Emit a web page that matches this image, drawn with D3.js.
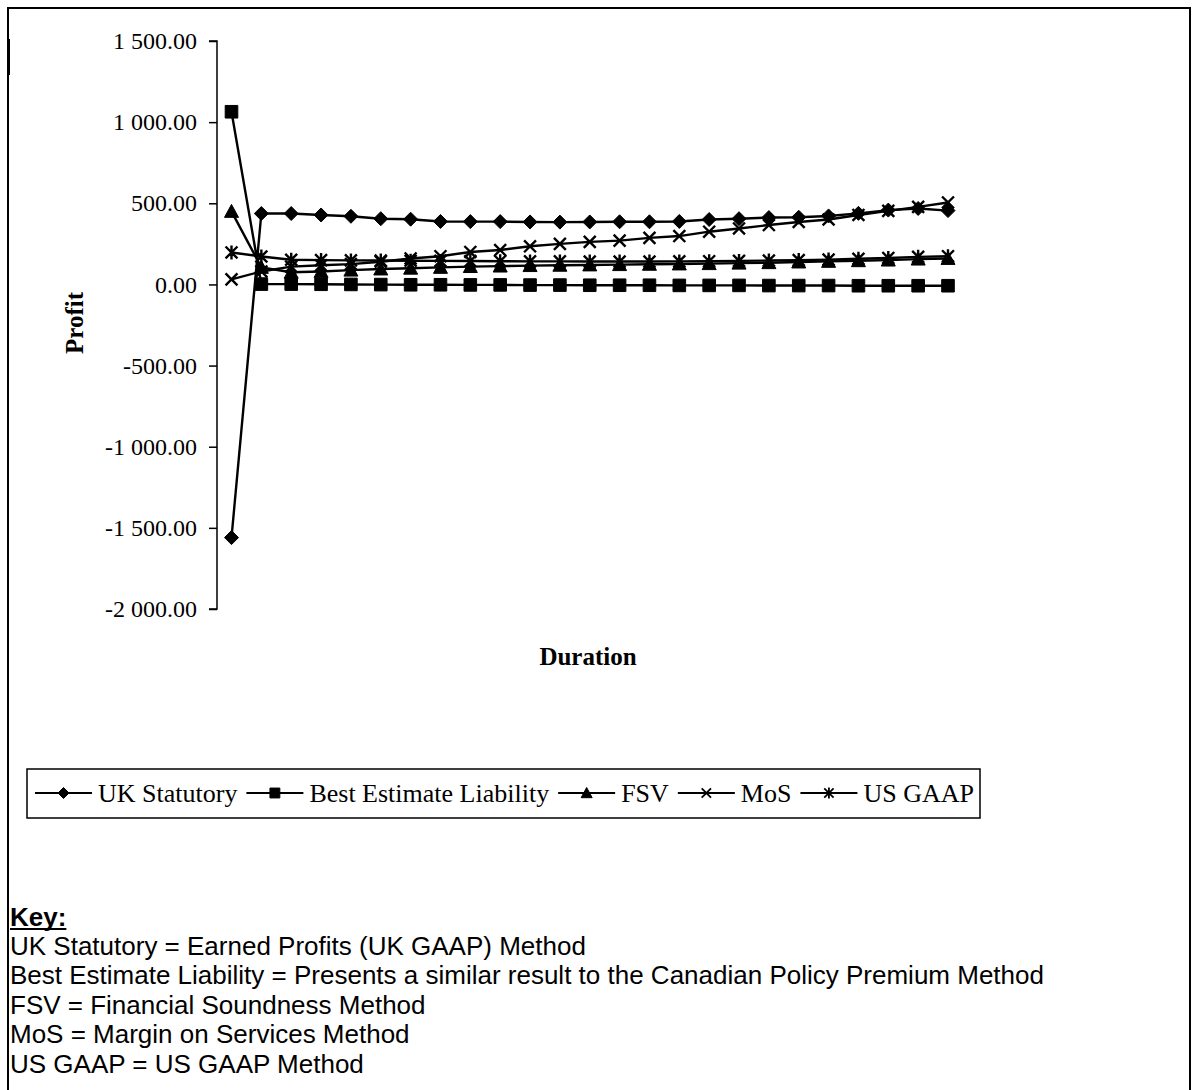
<!DOCTYPE html>
<html>
<head>
<meta charset="utf-8">
<script src="https://cdn.jsdelivr.net/npm/d3@7/dist/d3.min.js"></script>
<style>
  html, body { margin: 0; padding: 0; background: #fff; }
  svg { display: block; }
</style>
</head>
<body>
<svg id="chart" width="1197" height="1090"></svg>
<script>
// ---- data ----
const durations = [1,2,3,4,5,6,7,8,9,10,11,12,13,14,15,16,17,18,19,20,21,22,23,24,25];
const ukStatutory = [-1560, 437, 437, 428, 420, 405, 402, 388, 387, 387, 385, 384, 385, 386, 386, 388, 400, 405, 412, 414, 422, 438, 458, 468, 455];
const bestEstimate = [1064, 2, 2, 1, 0, -1, -2, -2, -3, -3, -4, -4, -5, -5, -5, -6, -6, -6, -7, -7, -7, -8, -8, -8, -8];
const fsv = [450, 105, 75, 80, 88, 95, 100, 105, 110, 113, 116, 118, 120, 122, 124, 126, 128, 131, 134, 138, 142, 146, 150, 156, 160];
const mos = [31, 80, 110, 118, 125, 140, 160, 174, 200, 212, 235, 250, 262, 270, 287, 298, 325, 345, 366, 385, 400, 428, 453, 478, 505];
const usGaap = [197, 172, 152, 150, 148, 147, 146, 145, 144, 143, 142, 142, 141, 141, 141, 142, 143, 145, 147, 150, 153, 158, 163, 170, 174];
const yTicks = [1500, 1000, 500, 0, -500, -1000, -1500, -2000];
const seriesNames = ["UK Statutory", "Best Estimate Liability", "FSV", "MoS", "US GAAP"];
const seriesMarkers = ["diamond", "square", "triangle", "x", "asterisk"];
const keyTitle = "Key:";
const keyLines = [
  "UK Statutory = Earned Profits (UK GAAP) Method",
  "Best Estimate Liability = Presents a similar result to the Canadian Policy Premium Method",
  "FSV = Financial Soundness Method",
  "MoS = Margin on Services Method",
  "US GAAP = US GAAP Method"
];
const yTitle = "Profit";
const xTitle = "Duration";

const seriesValues = [ukStatutory, bestEstimate, fsv, mos, usGaap];

// ---- setup ----
const svg = d3.select("#chart");
const serif = "'Liberation Serif', 'Times New Roman', serif";
const sans = "'Liberation Sans', Arial, sans-serif";

// page border
svg.append("rect").attr("x", 8).attr("y", 8).attr("width", 1182).attr("height", 1100)
  .attr("fill", "none").attr("stroke", "#000").attr("stroke-width", 2);
svg.append("rect").attr("x", 7).attr("y", 39).attr("width", 3).attr("height", 36).attr("fill", "#000");

const x = d3.scalePoint().domain(durations).range([231.5, 948]);
const y = d3.scaleLinear().domain([-2000, 1500]).range([609, 41]);

const locale = d3.formatLocale({decimal: ".", thousands: " ", grouping: [3], currency: ["", ""], minus: "-"});
const fmt = locale.format(",.2f");

// y axis
const yAxis = d3.axisLeft(y).tickValues(yTicks).tickFormat(fmt).tickSize(8).tickPadding(12);
const gy = svg.append("g").attr("transform", "translate(217,0)").call(yAxis);
gy.select(".domain").attr("stroke", "#000").attr("stroke-width", 1.5).attr("d", "M-8,41H0V609H-8");
gy.selectAll(".tick line").attr("stroke", "#000").attr("stroke-width", 1.5);
gy.selectAll(".tick text").attr("font-family", serif).attr("font-size", 24).attr("fill", "#000");

// axis titles
svg.append("text").attr("transform", "translate(83,323) rotate(-90)")
  .attr("text-anchor", "middle").attr("font-family", serif).attr("font-weight", "bold")
  .attr("font-size", 25).text(yTitle);
svg.append("text").attr("x", 588).attr("y", 665)
  .attr("text-anchor", "middle").attr("font-family", serif).attr("font-weight", "bold")
  .attr("font-size", 25).text(xTitle);

// marker path generator
function markerPath(type, s) {
  const h = s / 2;
  switch (type) {
    case "diamond": return `M0,${-h}L${h},0L0,${h}L${-h},0Z`;
    case "square": { const q = h * 0.9; return `M${-q},${-q}H${q}V${q}H${-q}Z`; }
    case "triangle": return `M0,${-h}L${h},${h*0.85}L${-h},${h*0.85}Z`;
    case "x": { const q = h * 0.85; return `M${-q},${-q}L${q},${q}M${-q},${q}L${q},${-q}`; }
    case "asterisk": { const q = h * 0.85; return `M${-q},${-q}L${q},${q}M${-q},${q}L${q},${-q}M0,${-h}V${h}`; }
  }
}
const filled = {diamond: true, square: true, triangle: true, x: false, asterisk: false};

const line = d3.line().x((d, i) => x(durations[i])).y(d => y(d));

seriesValues.forEach((vals, si) => {
  svg.append("path").datum(vals).attr("d", line)
    .attr("fill", "none").attr("stroke", "#000").attr("stroke-width", 2.4);
});
seriesValues.forEach((vals, si) => {
  const type = seriesMarkers[si];
  svg.append("g").selectAll("path").data(vals).join("path")
    .attr("transform", (d, i) => `translate(${x(durations[i])},${y(d)})`)
    .attr("d", markerPath(type, 14))
    .attr("fill", filled[type] ? "#000" : "none")
    .attr("stroke", "#000").attr("stroke-width", filled[type] ? 1 : 2.4);
});

// legend
const lg = svg.append("g");
lg.append("rect").attr("x", 27).attr("y", 769).attr("width", 953).attr("height", 49)
  .attr("fill", "#fff").attr("stroke", "#000").attr("stroke-width", 1.5);
let cx = 35;
const lineLen = 57;
seriesNames.forEach((name, si) => {
  const type = seriesMarkers[si];
  lg.append("line").attr("x1", cx).attr("x2", cx + lineLen).attr("y1", 793).attr("y2", 793)
    .attr("stroke", "#000").attr("stroke-width", 1.8);
  lg.append("path").attr("transform", `translate(${cx + lineLen / 2},793)`)
    .attr("d", markerPath(type, 11))
    .attr("fill", filled[type] ? "#000" : "none")
    .attr("stroke", "#000").attr("stroke-width", filled[type] ? 1 : 1.8);
  const t = lg.append("text").attr("x", cx + lineLen + 6).attr("y", 802)
    .attr("font-family", serif).attr("font-size", 26).text(name);
  cx += lineLen + 6 + t.node().getComputedTextLength() + 9;
});

// key text
const kg = svg.append("g");
const kt = kg.append("text").attr("x", 10).attr("y", 926).attr("font-family", sans)
  .attr("font-weight", "bold").attr("font-size", 26).text(keyTitle);
const kw = kt.node().getComputedTextLength();
kg.append("line").attr("x1", 10).attr("x2", 10 + kw).attr("y1", 929).attr("y2", 929)
  .attr("stroke", "#000").attr("stroke-width", 2);
keyLines.forEach((s, i) => {
  kg.append("text").attr("x", 10).attr("y", 955 + i * 29.4).attr("font-family", sans)
    .attr("font-size", 26).text(s);
});
</script>
</body>
</html>
